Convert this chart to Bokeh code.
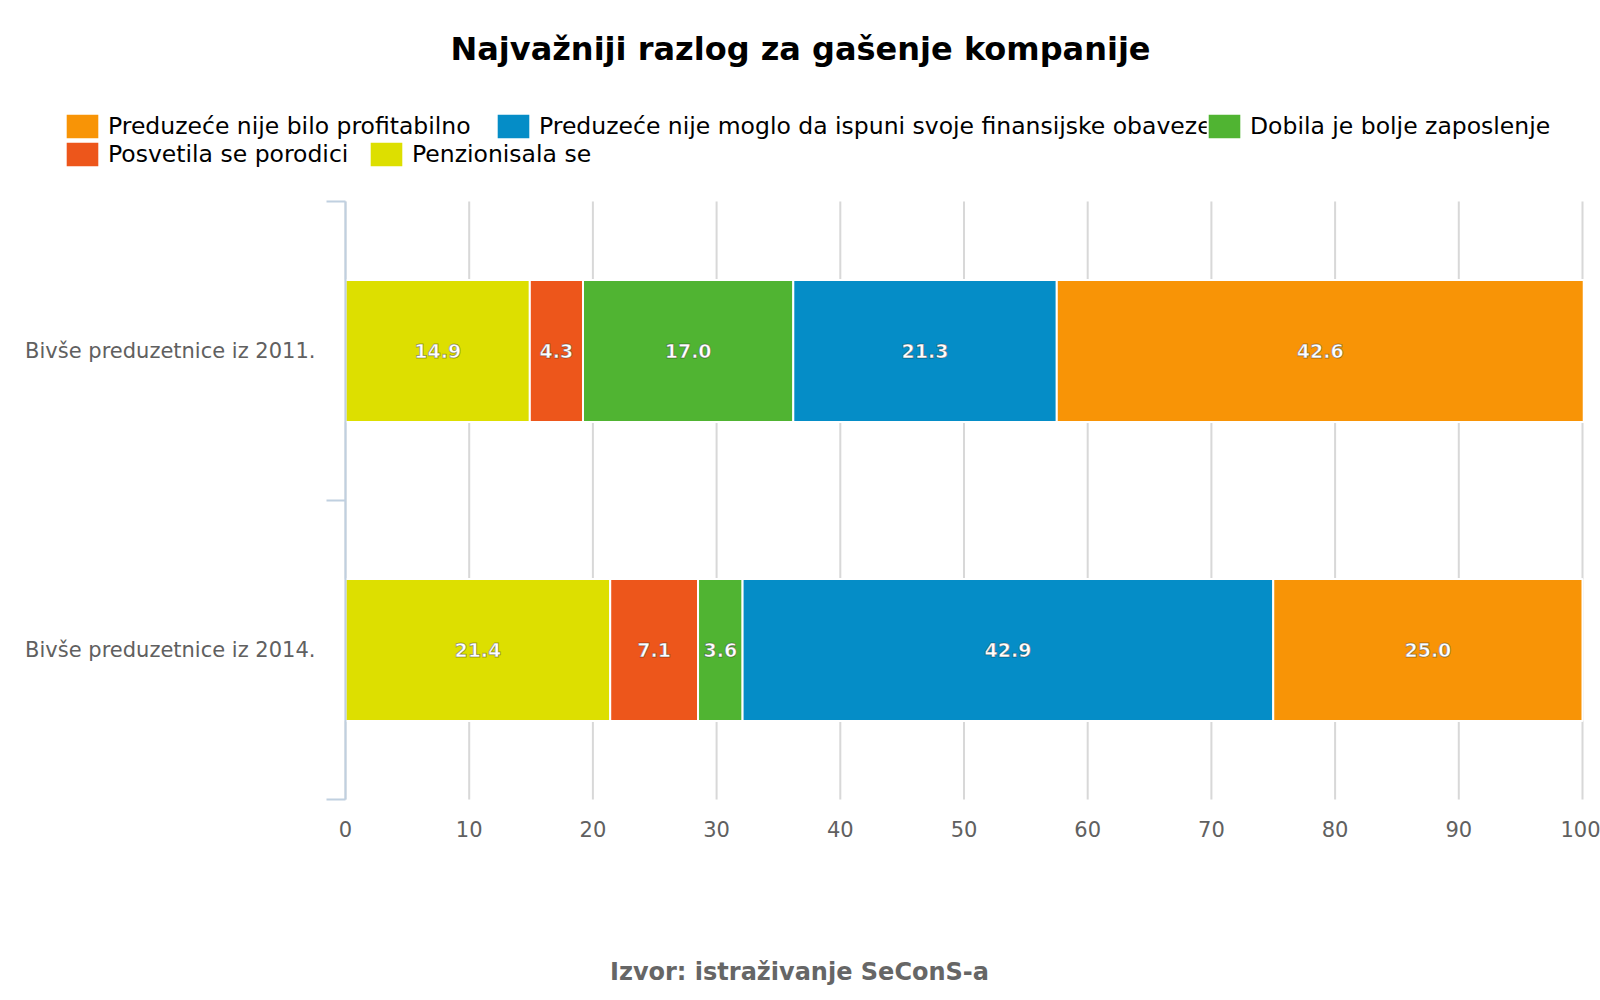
from bokeh.plotting import figure
from bokeh.models import (ColumnDataSource, FixedTicker, Range1d, Legend, LegendItem, Label,
                          LinearAxis)
from bokeh.core.properties import value
from bokeh.embed import file_html
from bokeh.resources import INLINE

# ---------------- data ----------------
title_text = "Najvažniji razlog za gašenje kompanije"
source_text = "Izvor: istraživanje SeConS-a"
categories = ["Bivše preduzetnice iz 2011.", "Bivše preduzetnice iz 2014."]

series_names = [
    "Preduzeće nije bilo profitabilno",
    "Preduzeće nije moglo da ispuni svoje finansijske obaveze",
    "Dobila je bolje zaposlenje",
    "Posvetila se porodici",
    "Penzionisala se",
]
profitabilno = [42.6, 25.0]
finansijske = [21.3, 42.9]
dobila = [17.0, 3.6]
porodica = [4.3, 7.1]
penzija = [14.9, 21.4]
series_colors = ["#F89406", "#058DC7", "#50B432", "#ED561B", "#DDDF00"]
x_ticks = [0, 10, 20, 30, 40, 50, 60, 70, 80, 90, 100]

series_values = [profitabilno, finansijske, dobila, porodica, penzija]

# ---------------- layout constants (pixels) ----------------
W, H = 1600, 1000
PL, PR, PT, PB = 345, 1582, 201, 799     # plot area in page pixels
n = len(categories)
xs = (PR - PL) / 100.0
ys = (PB - PT) / n

p = figure(width=W, height=H, output_backend="svg", toolbar_location=None, title=None,
           x_range=Range1d(-PL / xs, (W - PL) / xs),
           y_range=Range1d(-(H - PB) / ys, n + PT / ys),
           x_axis_location=None, y_axis_location=None, min_border=0)
p.outline_line_color = None
p.grid.visible = False

ypos = [n - 0.5 - i for i in range(n)]

# vertical grid lines at the x ticks
p.segment(x0=x_ticks, y0=[0] * len(x_ticks), x1=x_ticks, y1=[n] * len(x_ticks),
          line_color="#D8D8D8", line_width=2)

# stacked bars (last series on the left, first on the right)
order = list(range(len(series_names)))[::-1]
left = [0.0] * n
renderers = {}
label_x, label_y, label_t = [], [], []
for k in order:
    vals = series_values[k]
    right = [l + v for l, v in zip(left, vals)]
    src = ColumnDataSource(dict(y=ypos, left=left, right=right))
    renderers[k] = p.hbar(y="y", left="left", right="right", height=0.475, source=src,
                          fill_color=series_colors[k], line_color="white", line_width=2)
    for i in range(n):
        label_x.append((left[i] + right[i]) / 2)
        label_y.append(ypos[i])
        label_t.append("%.1f" % vals[i])
    left = right

lsrc = ColumnDataSource(dict(x=label_x, y=label_y, t=label_t))
try:
    p.text(x="x", y="y", text="t", source=lsrc, text_color="white",
           text_font=value("DejaVu Sans"), text_font_style="bold", text_font_size="19px",
           text_align="center", text_baseline="middle",
           text_outline_color="rgba(0,0,0,0.35)")
except Exception:
    p.text(x="x", y="y", text="t", source=lsrc, text_color="white",
           text_font=value("DejaVu Sans"), text_font_style="bold", text_font_size="19px",
           text_align="center", text_baseline="middle")

# ---------------- axes ----------------
xa = LinearAxis(fixed_location=0, bounds=(0, 100), ticker=FixedTicker(ticks=x_ticks))
xa.axis_line_color = None
xa.major_tick_line_color = None
xa.minor_tick_line_color = None
xa.major_label_text_font = "DejaVu Sans"
xa.major_label_text_font_size = "21px"
xa.major_label_text_color = "#606060"
xa.major_label_standoff = 15
p.add_layout(xa, "below")

ya = LinearAxis(fixed_location=0, bounds=(0, n),
                ticker=FixedTicker(ticks=ypos, minor_ticks=list(range(n + 1))))
ya.major_label_overrides = {y: c for y, c in zip(ypos, categories)}
ya.axis_line_color = "#C0D0E0"
ya.axis_line_width = 2
ya.major_tick_line_color = None
ya.major_tick_out = 0
ya.major_tick_in = 0
ya.minor_tick_line_color = "#C0D0E0"
ya.minor_tick_line_width = 2
ya.minor_tick_out = 19
ya.minor_tick_in = 0
ya.major_label_text_font = "DejaVu Sans"
ya.major_label_text_font_size = "21px"
ya.major_label_text_color = "#606060"
ya.major_label_standoff = 11
p.add_layout(ya, "left")

# ---------------- legend ----------------
GH = 32
row1 = H - 110 - GH
row2 = H - 138 - GH
leg_pos = {0: (61, row1), 1: (492, row1), 2: (1203, row1),
           3: (61, row2), 4: (365, row2)}
for k in [0, 1, 3, 4, 2]:
    lg = Legend(items=[LegendItem(label=series_names[k], renderers=[renderers[k]])],
                location=leg_pos[k], orientation="horizontal",
                glyph_width=42, glyph_height=GH, label_standoff=5,
                label_text_font="DejaVu Sans", label_text_font_size="23.5px",
                label_text_color="#000000", label_text_baseline="middle",
                padding=0, margin=0, spacing=0,
                background_fill_alpha=0, border_line_alpha=0)
    p.add_layout(lg, "center")

# ---------------- title and source ----------------
p.add_layout(Label(x=800, y=H - 48, x_units="screen", y_units="screen", text=title_text,
                   text_font="DejaVu Sans", text_font_style="bold", text_font_size="32px",
                   text_color="#000000", text_align="center", text_baseline="alphabetic"))
p.add_layout(Label(x=799, y=H - 971, x_units="screen", y_units="screen", text=source_text,
                   text_font="DejaVu Sans", text_font_style="bold", text_font_size="24px",
                   text_color="#666666", text_align="center", text_baseline="alphabetic"))

open("out.html", "w").write(file_html(p, INLINE))
